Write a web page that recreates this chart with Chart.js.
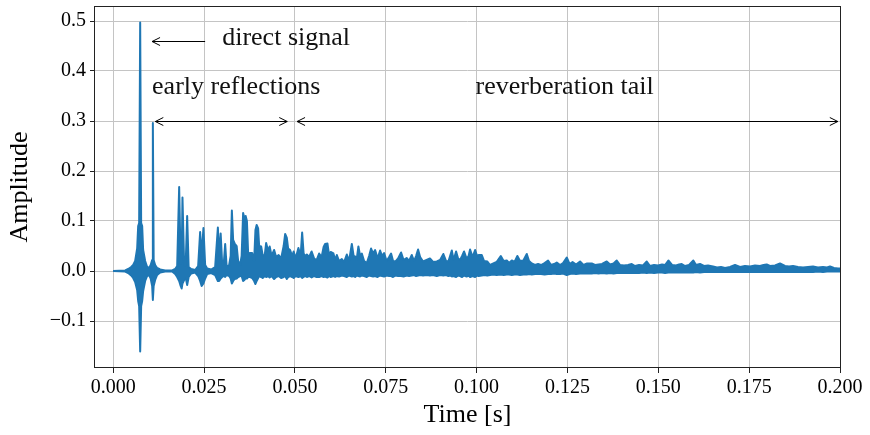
<!DOCTYPE html>
<html>
<head>
<meta charset="utf-8">
<title>Room impulse response</title>
<script src="https://cdn.jsdelivr.net/npm/chart.js@4.4.1/dist/chart.umd.min.js"></script>
<style>
  body { margin: 0; background: #fff; }
  #wrap { width: 870px; height: 435px; }
</style>
</head>
<body>
<div id="wrap"><canvas id="myChart"></canvas></div>
<script>
// time of each envelope sample, in ms
const time_ms = [
  0.00, 3.30, 4.13, 4.95, 5.50, 6.05, 6.60, 6.88, 7.15, 7.43, 7.70, 7.98, 8.25, 8.80, 9.35, 9.90,
  10.32, 10.73, 10.92, 11.14, 11.55, 12.10, 12.93, 14.31, 16.23, 17.06, 17.61, 18.16, 18.57, 18.84, 19.07, 19.53,
  19.94, 20.36, 20.77, 21.46, 22.56, 23.38, 23.93, 24.35, 24.84, 25.31, 25.86, 26.96, 28.06, 28.81, 29.16, 29.58,
  29.99, 30.40, 30.82, 31.23, 31.92, 32.33, 32.66, 33.01, 33.43, 33.98, 34.39, 34.94, 35.35, 35.76, 36.12, 36.45,
  36.80, 37.14, 37.69, 38.24, 38.79, 39.15, 39.48, 39.89, 40.17, 40.72, 41.13, 41.68, 42.09, 42.64, 43.06, 43.60,
  44.29, 44.84, 45.53, 46.22, 46.91, 47.32, 47.79, 48.15, 48.69, 49.24, 49.66, 50.21, 50.97, 51.58, 52.00, 52.41,
  52.82, 53.29, 53.92, 54.61, 55.30, 55.98, 56.67, 57.36, 57.91, 58.32, 58.96, 59.43, 59.84, 60.61, 61.08, 61.54,
  62.17, 62.92, 63.55, 64.29, 64.92, 65.67, 66.16, 66.58, 66.99, 67.48, 67.95, 68.42, 69.05, 69.79, 70.42, 70.97,
  71.52, 72.08, 72.76, 73.45, 74.00, 74.55, 75.24, 75.93, 76.47, 77.02, 77.71, 78.40, 79.23, 79.91, 80.74, 81.43,
  82.17, 82.80, 83.35, 83.90, 84.46, 85.28, 86.24, 87.17, 88.03, 89.05, 89.96, 90.86, 91.61, 92.24, 92.71, 93.18,
  93.67, 94.36, 94.91, 95.46, 96.01, 96.56, 97.25, 97.80, 98.21, 98.90, 99.59, 100.14, 100.55, 101.43, 102.06, 102.97,
  103.71, 104.62, 105.50, 106.66, 107.43, 108.31, 108.94, 109.68, 110.45, 111.22, 111.96, 112.87, 113.81, 114.44, 115.18, 116.09,
  116.92, 117.74, 118.71, 119.67, 120.49, 121.32, 122.06, 122.97, 123.80, 124.81, 125.58, 126.41, 127.37, 128.47, 129.43, 130.40,
  131.69, 132.60, 133.56, 134.52, 135.82, 136.72, 137.69, 138.56, 139.48, 140.57, 141.68, 142.70, 143.60, 144.70, 145.80, 146.82,
  147.73, 148.83, 149.93, 151.03, 151.86, 152.77, 153.78, 154.88, 155.71, 156.45, 157.36, 158.46, 159.64, 160.38, 161.48, 162.58,
  163.68, 165.06, 166.16, 167.26, 168.36, 169.74, 171.11, 172.49, 173.86, 175.24, 176.62, 177.99, 178.95, 179.83, 180.74, 182.12,
  183.49, 184.87, 185.97, 187.07, 188.44, 189.82, 191.19, 192.57, 193.94, 195.32, 196.42, 197.25, 198.35, 199.45, 200.00
];
// upper envelope of the amplitude
const upper = [
  0, 0.001, 0.004, 0.008, 0.012, 0.020, 0.045, 0.090, 0.096, 0.497, 0.096, 0.090, 0.042, 0.020, 0.008, 0.006,
  0.012, 0.022, 0.296, 0.022, 0.012, 0.006, 0.003, 0.001, 0.001, 0.004, 0.010, 0.168, 0.015, 0.020, 0.147, 0.012,
  0.010, 0.110, 0.008, 0.004, 0.002, 0.010, 0.078, 0.030, 0.086, 0.012, 0.005, 0.003, 0.008, 0.087, 0.030, 0.075,
  0.015, 0.012, 0.054, 0.008, 0.012, 0.030, 0.121, 0.062, 0.055, 0.050, 0.020, 0.012, 0.030, 0.116, 0.105, 0.110,
  0.100, 0.035, 0.036, 0.036, 0.020, 0.082, 0.092, 0.085, 0.050, 0.049, 0.032, 0.030, 0.056, 0.040, 0.049, 0.030,
  0.042, 0.028, 0.032, 0.025, 0.050, 0.074, 0.066, 0.045, 0.042, 0.030, 0.039, 0.025, 0.046, 0.030, 0.077, 0.035,
  0.030, 0.033, 0.028, 0.039, 0.025, 0.022, 0.035, 0.028, 0.048, 0.054, 0.055, 0.030, 0.038, 0.035, 0.022, 0.032,
  0.020, 0.024, 0.018, 0.033, 0.020, 0.054, 0.030, 0.029, 0.022, 0.049, 0.030, 0.035, 0.020, 0.016, 0.030, 0.045,
  0.035, 0.042, 0.025, 0.041, 0.030, 0.036, 0.020, 0.028, 0.035, 0.020, 0.019, 0.025, 0.037, 0.022, 0.026, 0.020,
  0.032, 0.020, 0.030, 0.043, 0.028, 0.019, 0.022, 0.025, 0.018, 0.019, 0.022, 0.034, 0.020, 0.019, 0.030, 0.041,
  0.022, 0.039, 0.025, 0.022, 0.030, 0.039, 0.025, 0.030, 0.043, 0.028, 0.042, 0.030, 0.032, 0.032, 0.020, 0.019,
  0.012, 0.015, 0.018, 0.030, 0.020, 0.021, 0.016, 0.021, 0.018, 0.030, 0.020, 0.021, 0.034, 0.020, 0.015, 0.012,
  0.014, 0.012, 0.016, 0.021, 0.012, 0.014, 0.017, 0.012, 0.016, 0.027, 0.014, 0.018, 0.013, 0.019, 0.012, 0.015,
  0.015, 0.012, 0.013, 0.014, 0.019, 0.013, 0.015, 0.021, 0.012, 0.011, 0.012, 0.014, 0.010, 0.012, 0.011, 0.019,
  0.010, 0.012, 0.011, 0.013, 0.012, 0.021, 0.012, 0.011, 0.013, 0.014, 0.010, 0.012, 0.021, 0.012, 0.014, 0.010,
  0.011, 0.009, 0.007, 0.008, 0.006, 0.008, 0.012, 0.008, 0.010, 0.009, 0.011, 0.010, 0.012, 0.013, 0.010, 0.011,
  0.015, 0.010, 0.009, 0.010, 0.008, 0.007, 0.008, 0.009, 0.007, 0.008, 0.007, 0.009, 0.006, 0.005, 0.005
];
// lower envelope of the amplitude
const lower = [
  0, -0.001, -0.004, -0.009, -0.014, -0.022, -0.038, -0.060, -0.070, -0.161, -0.070, -0.060, -0.040, -0.020, -0.010, -0.008,
  -0.015, -0.030, -0.058, -0.030, -0.018, -0.008, -0.003, -0.001, -0.001, -0.006, -0.012, -0.020, -0.030, -0.035, -0.025, -0.018,
  -0.012, -0.028, -0.012, -0.005, -0.003, -0.010, -0.020, -0.030, -0.025, -0.015, -0.006, -0.004, -0.008, -0.020, -0.020, -0.015,
  -0.012, -0.010, -0.012, -0.008, -0.010, -0.015, -0.025, -0.020, -0.016, -0.015, -0.012, -0.010, -0.010, -0.020, -0.018, -0.015,
  -0.015, -0.012, -0.012, -0.014, -0.020, -0.026, -0.020, -0.014, -0.010, -0.012, -0.014, -0.010, -0.012, -0.010, -0.013, -0.010,
  -0.016, -0.012, -0.010, -0.014, -0.012, -0.010, -0.016, -0.012, -0.010, -0.012, -0.014, -0.010, -0.012, -0.010, -0.014, -0.012,
  -0.010, -0.012, -0.010, -0.013, -0.010, -0.012, -0.012, -0.010, -0.012, -0.011, -0.013, -0.010, -0.012, -0.010, -0.012, -0.010,
  -0.011, -0.009, -0.010, -0.012, -0.009, -0.011, -0.010, -0.012, -0.009, -0.010, -0.011, -0.009, -0.010, -0.012, -0.009, -0.010,
  -0.011, -0.010, -0.012, -0.009, -0.010, -0.011, -0.009, -0.010, -0.010, -0.012, -0.009, -0.010, -0.010, -0.011, -0.009, -0.010,
  -0.009, -0.008, -0.010, -0.009, -0.008, -0.009, -0.008, -0.009, -0.008, -0.010, -0.008, -0.009, -0.008, -0.010, -0.009, -0.011,
  -0.010, -0.012, -0.009, -0.010, -0.012, -0.009, -0.011, -0.009, -0.012, -0.010, -0.012, -0.009, -0.010, -0.009, -0.008, -0.009,
  -0.008, -0.007, -0.008, -0.007, -0.008, -0.007, -0.007, -0.008, -0.007, -0.007, -0.008, -0.007, -0.007, -0.006, -0.007, -0.006,
  -0.006, -0.006, -0.007, -0.006, -0.006, -0.005, -0.006, -0.006, -0.005, -0.008, -0.006, -0.005, -0.006, -0.005, -0.005, -0.005,
  -0.005, -0.004, -0.005, -0.004, -0.005, -0.004, -0.005, -0.004, -0.004, -0.004, -0.004, -0.004, -0.004, -0.004, -0.003, -0.004,
  -0.003, -0.004, -0.003, -0.003, -0.004, -0.003, -0.003, -0.003, -0.003, -0.003, -0.003, -0.003, -0.003, -0.002, -0.003, -0.002,
  -0.002, -0.002, -0.002, -0.002, -0.002, -0.002, -0.002, -0.002, -0.002, -0.002, -0.002, -0.002, -0.002, -0.002, -0.002, -0.002,
  -0.002, -0.002, -0.002, -0.002, -0.002, -0.002, -0.002, -0.002, -0.001, -0.002, -0.001, -0.001, -0.001, -0.001, -0.001
];

const xTicks = [0, 0.025, 0.05, 0.075, 0.1, 0.125, 0.15, 0.175, 0.2];
const yTicks = [-0.1, 0, 0.1, 0.2, 0.3, 0.4, 0.5];

const blue = '#1f77b4';
const serif = '"Liberation Serif", "DejaVu Serif", serif';

function toPoints(arr) {
  return time_ms.map((t, i) => ({ x: t / 1000, y: arr[i] }));
}

// open arrow head, dir = -1 points left, 1 points right
function arrowHead(ctx, x, y, dir) {
  ctx.beginPath();
  ctx.moveTo(x - dir * 8, y - 4);
  ctx.lineTo(x, y);
  ctx.lineTo(x - dir * 8, y + 4);
  ctx.stroke();
}

const extras = {
  id: 'extras',
  afterDraw(chart) {
    const { ctx, chartArea: a, scales: { x, y } } = chart;
    ctx.save();
    // frame
    ctx.strokeStyle = '#222';
    ctx.lineWidth = 1;
    ctx.strokeRect(Math.round(a.left) - 0.5, Math.round(a.top) + 0.5,
      Math.round(a.right - a.left) + 1, Math.round(a.bottom - a.top) - 1);

    ctx.strokeStyle = '#000';
    ctx.fillStyle = '#111';
    ctx.lineWidth = 1;

    // direct signal arrow
    let yy = Math.round(y.getPixelForValue(0.46)) + 0.5;
    let x1 = x.getPixelForValue(0.0107), x2 = x.getPixelForValue(0.0253);
    ctx.beginPath(); ctx.moveTo(x1, yy); ctx.lineTo(x2, yy); ctx.stroke();
    arrowHead(ctx, x1, yy, -1);

    // double arrows
    yy = Math.round(y.getPixelForValue(0.3)) + 0.5;
    [[0.0116, 0.0479], [0.0506, 0.1994]].forEach(([a1, a2]) => {
      const p1 = x.getPixelForValue(a1), p2 = x.getPixelForValue(a2);
      ctx.beginPath(); ctx.moveTo(p1, yy); ctx.lineTo(p2, yy); ctx.stroke();
      arrowHead(ctx, p1, yy, -1);
      arrowHead(ctx, p2, yy, 1);
    });

    ctx.font = '26px ' + serif;
    ctx.textBaseline = 'middle';
    ctx.textAlign = 'left';
    ctx.fillText('direct signal', x.getPixelForValue(0.0300), y.getPixelForValue(0.466));
    ctx.fillText('early reflections', x.getPixelForValue(0.0107), y.getPixelForValue(0.368));
    ctx.fillText('reverberation tail', x.getPixelForValue(0.0997), y.getPixelForValue(0.368));
    ctx.restore();
  }
};

const ctx = document.getElementById('myChart').getContext('2d');
const chart = new Chart(ctx, {
  type: 'line',
  data: {
    datasets: [{
      data: toPoints(upper),
      borderColor: blue,
      backgroundColor: blue,
      borderWidth: 2,
      borderJoinStyle: 'round',
      fill: '+1',
      pointRadius: 0
    }, {
      data: toPoints(lower),
      borderColor: blue,
      backgroundColor: blue,
      borderWidth: 2,
      borderJoinStyle: 'round',
      fill: false,
      pointRadius: 0
    }]
  },
  options: {
    responsive: true,
    maintainAspectRatio: false,
    animation: false,
    events: [],
    layout: { padding: { left: 0, right: 30, top: 6, bottom: 0 } },
    plugins: { legend: { display: false }, tooltip: { enabled: false } },
    scales: {
      x: {
        type: 'linear',
        min: -0.005,
        max: 0.2,
        afterBuildTicks: s => { s.ticks = xTicks.map(v => ({ value: v })); },
        afterFit: s => { s.height = 67; s.paddingLeft = 0; s.paddingRight = 0; },
        ticks: {
          color: '#000',
          font: { family: serif, size: 20 },
          padding: 3,
          maxRotation: 0,
          autoSkip: false,
          callback: v => v.toFixed(3)
        },
        grid: { color: '#c4c4c4', lineWidth: 1, tickLength: 5, tickColor: '#222' },
        border: { display: false },
        title: {
          display: true, text: 'Time [s]', color: '#000',
          font: { family: serif, size: 26 }, padding: { top: 0, bottom: 4 }
        }
      },
      y: {
        min: -0.194,
        max: 0.530,
        afterBuildTicks: s => { s.ticks = yTicks.map(v => ({ value: v })); },
        afterFit: s => { s.width = 95; s.paddingTop = 0; s.paddingBottom = 0; },
        ticks: {
          color: '#000',
          font: { family: serif, size: 20 },
          padding: 4,
          autoSkip: false,
          callback: v => (Math.abs(v) < 1e-9 ? '0.0' : v.toFixed(1).replace('-', '\u2212'))
        },
        grid: { color: '#c4c4c4', lineWidth: 1, tickLength: 5, tickColor: '#222' },
        border: { display: false },
        title: {
          display: true, text: 'Amplitude', color: '#000',
          font: { family: serif, size: 26 }, padding: { top: 5, bottom: 0 }
        }
      }
    }
  },
  plugins: [extras]
});
</script>
</body>
</html>
